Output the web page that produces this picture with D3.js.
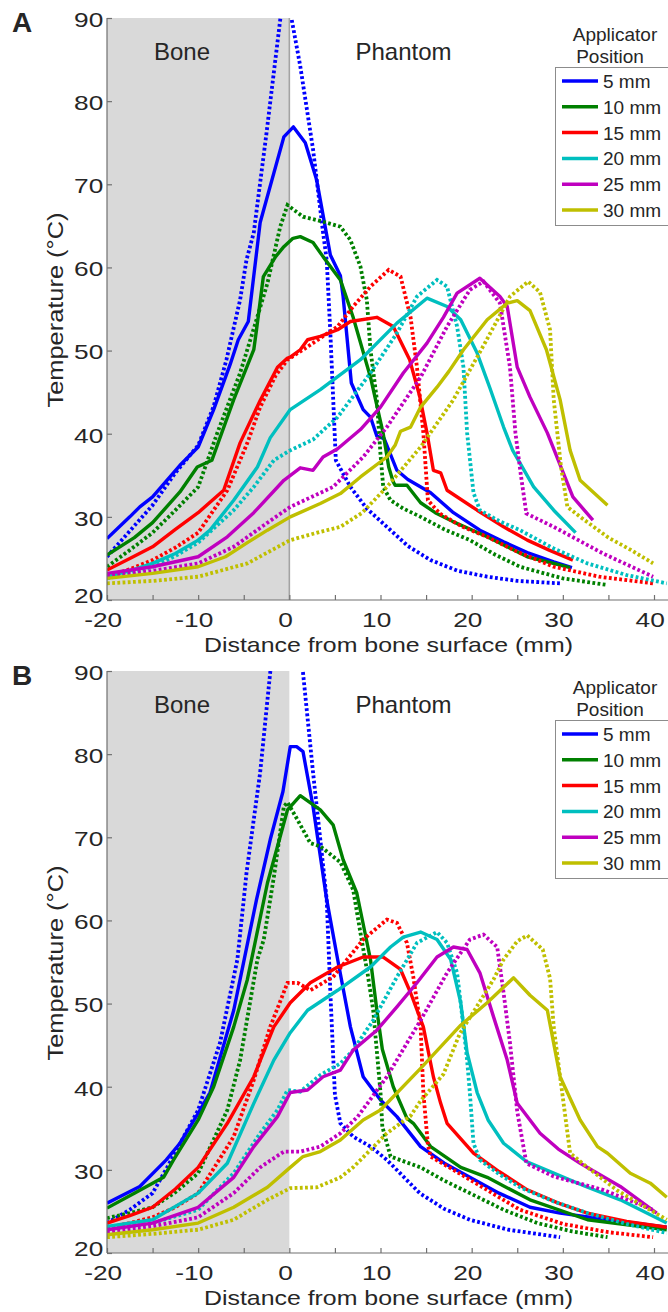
<!DOCTYPE html>
<html>
<head>
<meta charset="utf-8">
<script src="https://cdn.jsdelivr.net/npm/d3@7"></script>
<style>
  body { margin: 0; background: #fff; }
  text { font-family: "Liberation Sans", Arial, Helvetica, sans-serif; fill: #262626; }
</style>
</head>
<body>
<svg id="fig" width="668" height="1312"></svg>
<script>
/***** data: [distance (mm), temperature (°C)] *****/
// panel A, solid lines
const aSolid5  = [[-20,27.4],[-17.5,30],[-16.4,31.2],[-15,32.4],[-12,36.2],[-10,38.4],[-8.3,42.9],[-6.5,48.3],[-5.6,51.3],[-4.5,53.5],[-3.2,65.4],[-0.6,75.7],[0.45,76.9],[1.75,75],[3,70.5],[4.5,61.5],[5.6,59],[5.9,56.5],[6.8,46.1],[8.1,42.9],[8.9,42],[9.6,39.7],[10.4,39.4],[11.8,35.6],[13,34.5],[15.5,32.9],[18,30.5],[20.9,28.4],[23.5,27],[26.1,25.7],[29,24.6],[31,23.9]];
const aSolid10 = [[-20,25.4],[-17,27.5],[-15,29.3],[-12,33],[-10.1,36],[-8.5,36.8],[-6.1,44.1],[-3.9,50.1],[-3.6,52.5],[-2.85,58.9],[-1.5,61.3],[-0.6,62.5],[0.4,63.5],[1.2,63.7],[2.6,63],[3.7,61.3],[5.6,58.5],[7,54],[8.9,46.8],[10.3,40],[10.9,36],[11.4,34.2],[11.6,33.8],[12.9,33.8],[14.4,31.7],[16,30.5],[18,29.4],[21.7,27.6],[26.1,25.2],[30.8,23.9]];
const aSolid15 = [[-20,23.6],[-17.5,25],[-15,26.4],[-12.5,28.5],[-10,30.5],[-7.2,33.2],[-5.4,38.9],[-3.2,44],[-1.3,48],[-0.2,49.1],[0.1,49.2],[1.2,50.1],[2,51.3],[3.4,51.7],[5.3,52.5],[6.7,53.5],[9.6,54],[11.4,52.9],[13.2,48.9],[14.3,44.5],[15.1,40.1],[15.8,35.6],[16.6,35.3],[17.3,33.2],[20.6,30.8],[23.5,28.8],[26.1,27.2],[28.5,26],[31.1,24.8]];
const aSolid20 = [[-20,22.8],[-17.5,23.5],[-15,24.4],[-12.5,25.6],[-10,27.2],[-8.7,28.4],[-6.1,32],[-3.5,36],[-2.1,39.5],[0.1,42.9],[3.4,45.3],[7.8,48.9],[11.8,53.3],[15.1,56.3],[17.3,55.3],[18.8,53.7],[20.6,49.7],[22,45.5],[23.5,40.8],[24.5,38],[26.8,33.6],[29,30.8],[31.4,28.1]];
const aSolid25 = [[-20,23.2],[-15,24],[-10,25.2],[-6.8,27.6],[-3.9,30.5],[-0.6,34.4],[1.2,35.9],[2.6,35.6],[3.7,37.2],[5.3,38.2],[7.8,40.5],[10,43.2],[12.5,47.3],[15.1,50.9],[16.9,54],[18.4,56.9],[20.9,58.7],[23.1,56.5],[23.9,55.3],[25,48],[26.4,44.4],[28.3,40.1],[31.1,32.4],[33.3,29.6]];
const aSolid30 = [[-20,22.6],[-15,23.2],[-10,24],[-7,25.2],[-4.6,26.9],[-2.4,28.4],[0.1,30],[3.4,31.6],[5.6,32.8],[7.8,34.8],[10.7,37.2],[11.6,38.6],[12.2,40.3],[13.3,40.8],[14.4,43.2],[16.2,45.6],[17.5,47.5],[19.1,50.1],[21.7,53.7],[23.9,55.7],[25,56],[26.4,54.8],[28.2,50.1],[29.7,44.1],[30.8,38],[31.9,34.4],[34.9,31.4]];
// panel A, dotted lines
const aDotted5  = [[-20,25.2],[-17.5,28.3],[-15,31.4],[-12.5,35.3],[-10,38.6],[-8.3,43.3],[-6.9,48.9],[-5.4,56.1],[-4.7,60.9],[-3.9,64.2],[-2.5,76.2],[-1,89.8],[-0.5,94.3],[0.26,89.8],[1.2,84.2],[2.6,74.2],[3.7,64.2],[4.1,60.9],[4.5,52.1],[5.1,36.8],[6.7,33.6],[8.5,31],[10.7,28.8],[13,26.5],[15.5,24.8],[18.5,23.5],[21.7,22.8],[25,22.3],[29.7,22]];
const aDotted10 = [[-20,24],[-17.5,26],[-15,28.1],[-12.5,30.8],[-10,33.6],[-7.9,40.1],[-5.4,47.3],[-3.8,53],[-2.4,58.1],[-1,64.9],[-0.2,67.5],[1.5,66.1],[3.7,65.5],[5.6,64.9],[6.7,63.3],[7.8,60.1],[8.5,56.1],[8.9,50.1],[9.6,44.1],[10,37.5],[10.3,33.6],[11.1,32],[12.5,31],[14.4,30],[17,28.5],[19.8,27.2],[22.5,25.5],[25.3,24],[30,22.6],[34.9,21.8]];
const aDotted15 = [[-20,22.8],[-17.5,23.7],[-15,24.8],[-12.5,26.3],[-10,28.1],[-6.8,33.2],[-4.6,38.9],[-3.2,43.2],[-1.5,47],[-0.2,48.9],[1.5,50.1],[3,51.2],[5.3,52.9],[7,55.3],[8.9,57.7],[10.9,59.7],[12.2,58.9],[13.3,54],[14,48],[14.7,40.1],[15.2,32],[16.5,30.4],[19,28.8],[21.7,27.6],[25,25.8],[29,24],[34,22.8],[39.9,22]];
const aDotted20 = [[-20,22.6],[-17.5,23.2],[-15,24],[-12.5,25.3],[-10,26.9],[-6.1,30.8],[-3.9,33.6],[-1.7,36.8],[0.1,38],[2.6,39.3],[5.3,42],[8.9,47.3],[11.8,52.1],[14,56.5],[16.2,58.5],[17.3,57.7],[18.4,52.9],[19.1,48],[19.5,40.1],[20.2,32.9],[20.9,30.8],[23,29.5],[25.3,28.4],[29,26.2],[32.7,24.4],[37,23],[41.4,22]];
const aDotted25 = [[-20,23],[-15,23.5],[-10,24.4],[-6.1,26.4],[-2.4,29.3],[0.1,31.2],[4.8,33.6],[8.1,37.2],[10.7,40.8],[14.4,46.8],[17.3,52.9],[19.8,57.3],[21.3,58.3],[23.1,55.7],[24.2,48],[24.8,40.1],[25.4,35],[26,30.4],[29,28.8],[34.4,25.6],[39.9,22.8]];
const aDotted30 = [[-20,22],[-15,22.3],[-10,22.8],[-4.6,24.4],[0.1,27.2],[3.4,28.2],[5.6,28.8],[8,30.5],[10.7,33.6],[14.4,38.4],[18,44.1],[21.5,51],[24.2,56.5],[26.2,58.3],[27.5,57],[28.6,52.5],[29,44.1],[29.8,36],[30.5,31.2],[31.9,30],[35,27.5],[37.5,26],[39.9,24.4]];
// panel B, solid lines
const bSolid5  = [[-20,26],[-16.4,28],[-13.5,31.2],[-12,33.2],[-10,36.8],[-8.7,39.3],[-6.1,49.2],[-5.4,52.9],[-3.6,62.5],[-2.1,69.7],[-0.7,75.5],[0.1,80.9],[0.8,80.9],[1.5,80.3],[2.6,73.7],[4.1,62.5],[5.3,55.3],[6.7,47.2],[8.1,41.2],[10,38.4],[11.8,36.4],[14.4,32.8],[17,30.8],[19.8,29.1],[23,27.2],[26.4,25.5],[29.7,24.8],[35,24],[41.4,23.1]];
const bSolid10 = [[-20,25.4],[-17,27.2],[-13.8,29.1],[-12.7,31.2],[-10,36],[-8.3,40],[-6.1,47.2],[-4.6,52.9],[-2.4,64.5],[-0.2,73.3],[1.2,75],[3.4,73.3],[4.8,71.5],[5.9,67.3],[7.4,63.3],[8.9,55.3],[9.6,49.2],[10.2,44.5],[11.4,40],[12.9,36.2],[13.6,35.6],[15.5,32.8],[18.8,30.3],[21.7,29.1],[26.4,26.4],[32.7,24],[41.4,22.8]];
const bSolid15 = [[-20,23.6],[-17.5,24.5],[-15,25.5],[-12.5,27.7],[-10,30.3],[-6.8,35.6],[-3.9,41.2],[-2.7,44.5],[-1.7,47.2],[0.1,50.1],[2.3,52.5],[5.3,54.4],[8.1,55.6],[10.3,55.6],[12.2,54.1],[13.3,51.3],[14.7,47.2],[15.8,41.2],[16.6,38],[17.3,35.6],[20.2,32],[23,29.8],[26.1,27.6],[29.5,26],[32.7,24.8],[37,23.8],[41.4,23.1]];
const bSolid20 = [[-20,23.2],[-15,24],[-10,27.2],[-6.8,30.8],[-3.9,38],[-1.7,43.2],[0.1,46.5],[2,49.2],[5.3,51.6],[8.9,54.4],[11.1,56.8],[12.5,58],[14.4,58.6],[16.2,57.7],[17.7,55.3],[18.8,50.1],[19.5,44.1],[20.6,39.3],[21.8,36],[23.5,33.2],[26,31],[29,29.6],[32.5,28],[36.3,26.4],[41.4,23.6]];
const bSolid25 = [[-20,22.8],[-15,23.6],[-10,25.5],[-6.1,29.1],[-3.9,32.8],[-1.3,36.4],[0.1,39.3],[2,39.6],[3.7,41.2],[5.6,42],[7,44.4],[9.6,46.8],[11.8,49.6],[14,52.5],[16.2,55.6],[18,56.8],[19.5,56.5],[20.9,53.7],[22.4,48.4],[23.9,43.2],[25,38],[27.5,34.4],[29.5,32.5],[31.9,30.8],[36.3,28],[40.3,24.8]];
const bSolid30 = [[-20,22.2],[-15,22.8],[-10,23.6],[-6.1,25.5],[-2.4,27.9],[0.1,30.3],[1.5,31.6],[3.4,32.2],[5.6,33.6],[8.1,36],[10,37.2],[14.4,42.2],[18.8,47.4],[21.7,50.1],[24.6,53.1],[26.4,51],[28.3,49.2],[29.7,41.2],[31.9,36],[33.8,32.8],[34.9,32],[37.4,29.6],[39.6,28.4],[41.4,26.7]];
// panel B, dotted lines
const bDotted5  = [[-20,23.6],[-17.5,25.2],[-15,27.2],[-13.4,30.3],[-10,37.2],[-7.6,45.3],[-5.7,55.3],[-5,62.5],[-4.7,65.7],[-3.2,77.8],[-2.1,89.8],[-0.16,107.8],[1.5,89.8],[2.6,77.8],[3.4,69.7],[4.1,62.5],[4.5,51.3],[5,39],[5.6,35.6],[7,34],[8.9,32.8],[10.7,31.2],[12.5,29.2],[14.3,27.2],[17,25.3],[19.8,24],[24,22.8],[29.7,21.9]];
const bDotted10 = [[-20,24.2],[-17.5,24.8],[-15,25.5],[-12.5,27.3],[-10,29.6],[-6.8,37.2],[-5.4,43.2],[-3.5,55.3],[-2.8,57.7],[-1.7,65.2],[-0.6,73.7],[-0.2,74.2],[0.9,72.1],[2.3,69.3],[3.4,68.9],[5.6,67],[7,63.7],[7.8,58.5],[8.6,53.5],[9.2,49.2],[10,39.3],[10.2,35.2],[11.1,31.6],[14.4,30.3],[17,28.7],[19.8,27.2],[23.5,25.2],[27.2,23.6],[31,22.6],[34.9,21.9]];
const bDotted15 = [[-20,23],[-17.5,23.6],[-15,24.3],[-12.5,25.5],[-10,27.2],[-6.1,34],[-3.9,40.8],[-2.1,47.2],[-0.2,52.5],[0.9,52.5],[2.3,51.6],[4.8,53.2],[8.1,57.7],[10.7,60.1],[11.8,59.7],[12.9,57.3],[13.6,53.2],[14.4,47.2],[14.7,39.3],[15.2,33],[15.5,31.6],[18,30],[21.5,27.7],[25.3,25.2],[30,23.5],[35,22.5],[39.9,21.9]];
const bDotted20 = [[-20,22.8],[-15,23.6],[-10,25.2],[-6.1,29.6],[-3.2,34.4],[-1.3,37.2],[-0.2,39.6],[1.2,39.4],[3.4,41.4],[5.6,42.8],[7,44.4],[9.2,48],[11.8,53.2],[14,57.3],[16.2,58.6],[17.3,57.3],[18.4,53.7],[19.1,47.2],[19.5,43.2],[19.8,39.3],[20.2,33.2],[20.9,31.2],[23,29.5],[25.3,27.9],[29,26.2],[32.7,24.8],[37,23.5],[41.4,22.4]];
const bDotted25 = [[-20,22.5],[-15,23.2],[-10,24.3],[-6.1,27.2],[-3.2,30.3],[-0.6,32.2],[1.2,32.2],[3.4,32.8],[5.6,34.4],[7.5,36.4],[10.7,41.2],[14.4,48],[17.3,53.7],[19.8,57.7],[21.3,58.3],[22.8,56.8],[23.5,51.3],[24.2,45.3],[25,37],[26,30.8],[29,29.2],[34.4,27.6],[39.9,25.2]];
const bDotted30 = [[-20,21.9],[-15,22.3],[-10,22.8],[-6.1,24],[-2.4,26.4],[0.1,27.8],[3,27.9],[5.6,29.1],[7,30.3],[10.7,34.4],[13.3,36.5],[14.4,38.3],[16.9,41.5],[18.7,46.4],[20.2,49],[22.4,52.9],[23.5,55.3],[25,57.5],[26.1,58.2],[27.8,56.5],[28.6,53],[29,47.2],[29.7,41.2],[30.8,32],[32.7,30.3],[36,27.5],[41.4,24]];

const positions = ["5 mm", "10 mm", "15 mm", "20 mm", "25 mm", "30 mm"];
const xTicks = [-20, -15, -10, -5, 0, 5, 10, 15, 20, 25, 30, 35, 40];
const yTicks = [20, 30, 40, 50, 60, 70, 80, 90];

const colors = ["#0000ff", "#008000", "#ff0000", "#00bfbf", "#bf00bf", "#bfbf00"];

/***** layout *****/
const svg = d3.select("#fig");
const x = d3.scaleLinear().domain([-20, 40]).range([107, 654]);
const y = d3.scaleLinear().domain([20, 90]).range([600, 18]);

svg.append("defs").append("clipPath")
    .attr("id", "plotclip")
  .append("rect")
    .attr("x", x(-20)).attr("y", y(90))
    .attr("width", 668 - x(-20)).attr("height", y(20) - y(90));

const line = d3.line()
    .x(d => x(d[0]))
    .y(d => y(d[1]));

function drawPanel(offset, letter, solids, dotteds, zeroLine) {
  let g = svg.append("g").attr("transform", "translate(0," + offset + ")");

  // bone region
  g.append("rect")
    .attr("x", x(-20)).attr("y", y(90))
    .attr("width", x(0) - x(-20)).attr("height", y(20) - y(90))
    .attr("fill", "#d9d9d9");
  if (zeroLine) {
    g.append("line")
      .attr("x1", x(0)).attr("x2", x(0))
      .attr("y1", y(90)).attr("y2", y(20))
      .attr("stroke", "#a3a3a3").attr("stroke-width", 1.6);
  }

  // curves
  let curves = g.append("g").attr("clip-path", "url(#plotclip)");
  for (let i = 0; i < 6; i++) {
    curves.append("path")
      .datum(solids[i])
      .attr("fill", "none")
      .attr("stroke", colors[i])
      .attr("stroke-width", 3.4)
      .attr("stroke-linejoin", "round")
      .attr("d", line);
    curves.append("path")
      .datum(dotteds[i])
      .attr("fill", "none")
      .attr("stroke", colors[i])
      .attr("stroke-width", 3.8)
      .attr("stroke-dasharray", "2.8,2.4")
      .attr("d", line);
  }

  // X axis
  let xa = g.append("g")
    .attr("transform", "translate(0," + y(20) + ")")
    .call(d3.axisBottom(x)
      .tickValues(xTicks)
      .tickSize(-5)
      .tickFormat(d => d % 10 === 0 ? d : ""));
  xa.select(".domain").attr("d", "M" + x(-20) + ",0H668");
  xa.selectAll("line, .domain").attr("stroke", "#707070").attr("stroke-width", 1.2);
  xa.selectAll("text")
    .attr("y", 27).attr("dy", null)
    .attr("x", -3.5)
    .attr("transform", "scale(1.25,1)")
    .style("font-size", "21px")
    .style("font-family", "'Liberation Sans', Arial, sans-serif")
    .attr("fill", "#262626");

  // Y axis
  let ya = g.append("g")
    .attr("transform", "translate(" + x(-20) + ",0)")
    .call(d3.axisLeft(y)
      .tickValues(yTicks)
      .tickSize(-5));
  ya.select(".domain").attr("d", "M0," + y(90) + "V" + y(20));
  ya.selectAll("line, .domain").attr("stroke", "#707070").attr("stroke-width", 1.2);
  ya.selectAll("text")
    .attr("x", -3)
    .attr("dy", d => d === 20 ? "0.1em" : "0.4em")
    .attr("transform", "scale(1.25,1)")
    .style("font-size", "21px")
    .style("font-family", "'Liberation Sans', Arial, sans-serif")
    .attr("fill", "#262626");

  // axis titles
  g.append("text")
    .attr("x", 388.5).attr("y", 652)
    .attr("text-anchor", "middle")
    .attr("textLength", 369).attr("lengthAdjust", "spacingAndGlyphs")
    .style("font-size", "21px")
    .text("Distance from bone surface (mm)");
  g.append("text")
    .attr("transform", "translate(63,310) rotate(-90)")
    .attr("text-anchor", "middle")
    .attr("textLength", 195).attr("lengthAdjust", "spacingAndGlyphs")
    .style("font-size", "21.5px")
    .text("Temperature (°C)");

  // region labels
  g.append("text").attr("x", 182).attr("y", 60)
    .attr("text-anchor", "middle").style("font-size", "24px").text("Bone");
  g.append("text").attr("x", 403.5).attr("y", 60)
    .attr("text-anchor", "middle").style("font-size", "24px").text("Phantom");

  // panel letter
  g.append("text").attr("x", 12).attr("y", 32)
    .style("font-size", "28px").style("font-weight", "bold")
    .attr("fill", "#000").text(letter);

  // legend
  g.append("text").attr("x", 615).attr("y", 41)
    .attr("text-anchor", "middle").style("font-size", "19px").text("Applicator");
  g.append("text").attr("x", 610).attr("y", 63)
    .attr("text-anchor", "middle").style("font-size", "19px").text("Position");
  g.append("rect")
    .attr("x", 555.5).attr("y", 67.5)
    .attr("width", 130).attr("height", 158)
    .attr("fill", "#fff").attr("stroke", "#8c8c8c").attr("stroke-width", 1);
  let items = g.selectAll(".legitem")
    .data(positions)
    .enter().append("g")
      .attr("class", "legitem")
      .attr("transform", (d, i) => "translate(0," + (81 + i * 25.8) + ")");
  items.append("line")
    .attr("x1", 562).attr("x2", 598)
    .attr("stroke", (d, i) => colors[i])
    .attr("stroke-width", 3.5);
  items.append("text")
    .attr("x", 603).attr("y", 7)
    .style("font-size", "19px")
    .text(d => d);
}

drawPanel(0, "A",
  [aSolid5, aSolid10, aSolid15, aSolid20, aSolid25, aSolid30],
  [aDotted5, aDotted10, aDotted15, aDotted20, aDotted25, aDotted30], true);
drawPanel(653, "B",
  [bSolid5, bSolid10, bSolid15, bSolid20, bSolid25, bSolid30],
  [bDotted5, bDotted10, bDotted15, bDotted20, bDotted25, bDotted30], false);
</script>
</body>
</html>
